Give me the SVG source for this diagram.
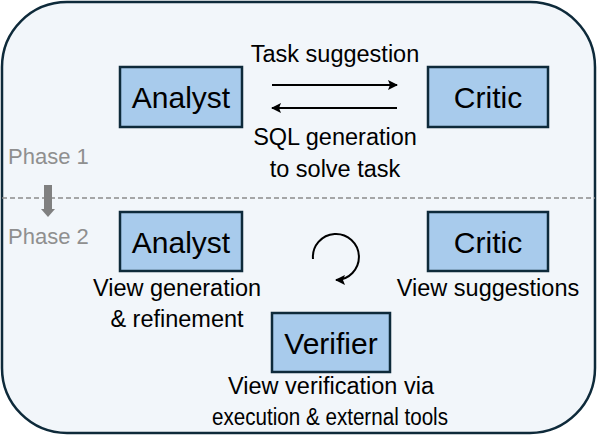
<svg xmlns="http://www.w3.org/2000/svg" width="597" height="436" viewBox="0 0 597 436">
<defs>
<style>
.bg{fill:#f2f6fa;stroke:#0e2a3a;stroke-width:2.5}
.box{fill:#a8cbec;stroke:#0e2a3a;stroke-width:2.5}
.lbl{font-family:"Liberation Sans",Arial,sans-serif;font-size:30px;fill:#000;text-anchor:middle}
.txt{font-family:"Liberation Sans",Arial,sans-serif;font-size:23.5px;fill:#000;text-anchor:middle}
.ph{font-family:"Liberation Sans",Arial,sans-serif;font-size:22px;fill:#8f8f8f}
.con{stroke:#000;stroke-width:2;fill:none}
</style>
<marker id="ah" viewBox="0 0 10 10" refX="9" refY="5" markerWidth="5" markerHeight="5" orient="auto" markerUnits="strokeWidth">
<path d="M0,0 L10,5 L0,10 L2,5 Z" fill="#000"/>
</marker>
</defs>
<rect class="bg" x="2" y="2" width="593" height="431" rx="65" ry="65"/>
<line x1="2" y1="198" x2="595" y2="198" stroke="#8c8c8c" stroke-width="1.5" stroke-dasharray="5,3"/>
<text class="ph" x="8" y="164">Phase 1</text>
<text class="ph" x="8" y="244">Phase 2</text>
<path d="M44,185 H52 V209 H55 L48,217 L41,209 H44 Z" fill="#808080"/>
<g id="connectors">
<line class="con" x1="272" y1="85" x2="397" y2="85" marker-end="url(#ah)"/>
<line class="con" x1="397" y1="108" x2="272" y2="108" marker-end="url(#ah)"/>
<path class="con" d="M313,259 A23,23 0 1 1 336,280" marker-end="url(#ah)"/>
</g>
<text class="txt" x="335" y="62">Task suggestion</text>
<text class="txt" x="335" y="145">SQL generation</text>
<text class="txt" x="335" y="177">to solve task</text>
<g id="analyst1">
<rect class="box" x="120" y="67" width="122" height="60"/>
<text class="lbl" x="181" y="108">Analyst</text>
</g>
<g id="critic1">
<rect class="box" x="428" y="67" width="120" height="60"/>
<text class="lbl" x="488" y="108">Critic</text>
</g>
<g id="analyst2">
<rect class="box" x="120" y="212" width="122" height="59"/>
<text class="lbl" x="181" y="253">Analyst</text>
<text class="txt" x="177" y="296">View generation</text>
<text class="txt" x="177" y="327">&amp; refinement</text>
</g>
<g id="critic2">
<rect class="box" x="428" y="212" width="120" height="59"/>
<text class="lbl" x="488" y="253">Critic</text>
<text class="txt" x="488" y="296">View suggestions</text>
</g>
<g id="verifier">
<rect class="box" x="272" y="313" width="118" height="59"/>
<text class="lbl" x="331" y="354">Verifier</text>
<text class="txt" x="331" y="394">View verification via</text>
<text class="txt" x="330" y="425" textLength="236" lengthAdjust="spacingAndGlyphs">execution &amp; external tools</text>
</g>
</svg>
